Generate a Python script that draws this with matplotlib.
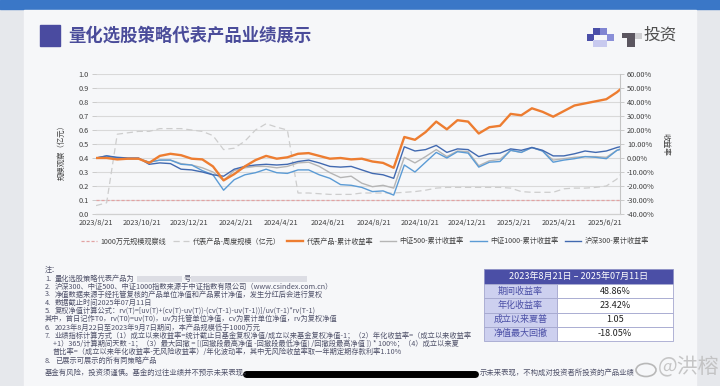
import numpy as np
import pandas as pd
import matplotlib.pyplot as plt
from matplotlib.patches import Rectangle, Ellipse
from matplotlib.lines import Line2D

plt.rcParams['font.family'] = ['Noto Sans CJK SC', 'DejaVu Sans']

# biweekly sample dates, last point is the cut-off day
dates = list(pd.date_range('2023-08-21', periods=50, freq='14D')) + [pd.Timestamp('2025-07-11')]

# cumulative returns (%)
product_ret = [0, 0, -1.0, -0.5, -0.5, -3.5, 1.5, 3.0, 2.0, -0.5,
               -1.0, -6.0, -16.0, -11.5, -6.0, -1.5, 1.5, -0.5, 0.5, 3.0,
               3.5, 1.5, -0.5, 0.0, -1.0, -0.5, -2.5, -3.5, -7.0, 15.0,
               13.0, 18.5, 26.0, 20.5, 27.0, 26.0, 17.5, 22.0, 23.0, 31.5,
               30.5, 35.5, 33.0, 29.5, 33.5, 37.5, 39.0, 40.5, 42.0, 47.0, 48.86]
csi500_ret = [0, 0.5, 0, -0.5, -0.5, -3, -1.5, -1.5, -4, -5,
              -7, -10, -16, -9, -7, -6, -6, -7, -6, -3.5,
              -3, -6, -10.5, -14, -13, -18, -20.5, -19.5, -21.5, 0.5,
              -3.5, 1, 6, 1, 5, 4.5, -5.5, -2, -1, 5.5,
              4, 7.5, 5, -1.5, -0.5, 0.5, 1, 1, 0.5, 5.5, 6.5]
csi1000_ret = [0, 1.5, 0, -0.5, -0.5, -3, -1.5, -1.5, -4.5, -5,
               -9, -12, -23, -15.5, -12, -10.5, -8, -10.5, -11, -8.5,
               -8.5, -12, -14.5, -19, -19.5, -21, -24, -23.5, -26.5, -5,
               -10, -3, 4, 0, 4.5, 3.5, -6.5, -3, -2.5, 5.5,
               4, 7.5, 5, -3, -1.5, -0.5, 1, 0.5, -0.5, 5.5, 6]
hs300_ret = [0, 1.5, 0.5, 0, 0, -4.5, -3.5, -4, -8, -8.5,
             -10, -12, -13, -8, -6, -5, -4.5, -5, -4.5, -2.5,
             -1.5, -3.5, -6, -6.5, -6, -8.5, -11, -12, -14.5, 8,
             5, 6, 9, 4, 6.5, 6, 1, 3, 3.5, 6.5,
             5.5, 7.5, 5.5, 1.5, 1.5, 3, 5, 4, 5, 7.5, 8]
# weekly fund size (亿元)
fund_scale = [0.06, 0.08, 0.57, 0.58, 0.59, 0.59, 0.61, 0.61, 0.61, 0.60,
              0.59, 0.56, 0.46, 0.47, 0.52, 0.60, 0.645, 0.62, 0.60, 0.15,
              0.15, 0.145, 0.14, 0.14, 0.14, 0.15, 0.15, 0.15, 0.15, 0.155,
              0.16, 0.17, 0.185, 0.19, 0.19, 0.19, 0.19, 0.19, 0.19, 0.185,
              0.16, 0.155, 0.155, 0.155, 0.18, 0.185, 0.185, 0.19, 0.20, 0.25, 0.28]
obs_line = 0.1

tick_dates = ['2023-08-21', '2023-10-21', '2023-12-21', '2024-02-21', '2024-04-21', '2024-06-21',
              '2024-08-21', '2024-10-21', '2024-12-21', '2025-02-21', '2025-04-21', '2025-06-21']

legend_names = ['1000万元规模观察线', '代表产品-周度规模（亿元）', '代表产品-累计收益率',
                '中证500-累计收益率', '中证1000-累计收益率', '沪深300-累计收益率']

table_title = '2023年8月21日 – 2025年07月11日'
table_labels = ['期间收益率', '年化收益率', '成立以来夏普', '净值最大回撤']
table_values = ['48.86%', '23.42%', '1.05', '-18.05%']

notes = [
    ('', '注：'),
    ('1.', '量化选股策略代表产品为'),
    ('2.', '沪深300、中证500、中证1000指数来源于中证指数有限公司（www.csindex.com.cn）'),
    ('3.', '净值数据来源于经托管复核的产品单位净值和产品累计净值，发生分红后会进行复权'),
    ('4.', '数据截止时间2025年07月11日'),
    ('5.', '复权净值计算公式：rv(T)=[uv(T)+(cv(T)-uv(T))-(cv(T-1)-uv(T-1))]/uv(T-1)*rv(T-1)'),
    ('', '其中，首日记作T0，rv(T0)=uv(T0)，uv为托管单位净值，cv为累计单位净值，rv为复权净值'),
    ('6.', '2023年8月22日至2023年9月7日期间，本产品规模低于1000万元'),
    ('7.', '业绩指标计算方式（1）成立以来收益率=统计截止日基金复权净值/成立以来基金复权净值-1；（2）年化收益率=（成立以来收益率'),
    ('-', '+1）365/计算期间天数 -1；（3）最大回撤 = [(回撤段最高净值 -回撤段最低净值) /回撤段最高净值 ]) * 100%；（4）成立以来夏'),
    ('-', '普比率=（成立以来年化收益率-无风险收益率）/年化波动率，其中无风险收益率取一年期定期存款利率1.10%'),
    ('8.', '已展示可展示的所有同策略产品'),
]
disclaimer_a = '基金有风险，投资须谨慎。基金的过往业绩并不预示未来表现，'
disclaimer_b = '示未来表现，不构成对投资者所投资的产品业绩'

fig = plt.figure(figsize=(7.2, 3.86), dpi=100)

# page background drawn in pixel coordinates
bg = fig.add_axes([0, 0, 1, 1])
bg.set_xlim(0, 720)
bg.set_ylim(386, 0)
bg.axis('off')
bg.set_zorder(0)
bg.add_patch(Rectangle((0, 0), 720, 386, color='#e6e8ec'))
bg.add_patch(Rectangle((0, 0), 720, 8.5, color='#3a77c7'))
bg.add_patch(Rectangle((24, 10), 672, 376, color='#f6f7f9'))

# title
bg.add_patch(Rectangle((40, 25), 20, 21, color='#4a4ba0'))
bg.text(68, 36, '量化选股策略代表产品业绩展示', fontsize=12.5, fontweight='bold',
        color='#4a4c9a', va='center', ha='left')

# blurred logo
logo = [(593, 28, '#4a4fa8'), (600, 28, '#8085d2'), (587, 34, '#4a4fa8'), (607, 34, '#8a8fd8'),
        (593, 40, '#c8caef'), (600, 40, '#c8caef')]
for lx, ly, lc in logo:
    bg.add_patch(Rectangle((lx, ly), 7, 6.5, color=lc, lw=0))
bg.add_patch(Rectangle((622, 33), 20, 5, color='#5b5660', lw=0))
bg.add_patch(Rectangle((627, 38), 8, 9, color='#5b5660', lw=0))
bg.add_patch(Rectangle((635, 33), 7, 6, color='#cfcfd2', lw=0))
bg.text(643, 35.5, '投资', fontsize=12, color='#505050', va='center', ha='left')

# chart
ax = fig.add_axes([96 / 720, 1 - 214 / 386, 524 / 720, 140 / 386])
ax.set_facecolor('none')
ax.set_zorder(2)
ax2 = ax.twinx()
ax2.set_zorder(3)
ax2.patch.set_visible(False)

c_obs, c_scale = '#e2a3a3', '#cdcdcd'
c_prod, c_500, c_1000, c_300 = '#ed7d31', '#b5b5b5', '#5b9bd5', '#4169b0'

ax.axhline(obs_line, color=c_obs, lw=0.9, ls=(0, (2.5, 1.5)))
ax.plot(dates, fund_scale, color=c_scale, lw=0.9, ls=(0, (5, 3)))
ax2.plot(dates, csi500_ret, color=c_500, lw=1.0)
ax2.plot(dates, csi1000_ret, color=c_1000, lw=1.0)
ax2.plot(dates, hs300_ret, color=c_300, lw=1.0)
ax2.plot(dates, product_ret, color=c_prod, lw=1.7)

ax.set_ylim(0, 1.0)
ax.set_yticks(np.arange(0, 1.01, 0.1))
ax.set_yticklabels([f'{v:.1f}' for v in np.arange(0, 1.01, 0.1)])
ax2.set_ylim(-40, 60)
ax2.set_yticks(np.arange(-40, 61, 10))
ax2.set_yticklabels([f'{v:.2f}%' for v in np.arange(-40, 61, 10)])

ax.set_xlim(pd.Timestamp('2023-08-21'), pd.Timestamp('2025-07-11'))
tds = pd.to_datetime(tick_dates)
ax.set_xticks(tds)
ax.set_xticklabels([f'{d.year}/{d.month}/{d.day}' for d in tds])

ax.grid(axis='y', color='#d9d9d9', lw=0.8)
ax.set_axisbelow(True)
for a in (ax, ax2):
    for s in ('top', 'left'):
        a.spines[s].set_visible(False)
    a.spines['bottom'].set_color('#d0d0d0')
    a.spines['right'].set_color('#c4c4c4')
    a.spines['right'].set_linewidth(0.8)
ax.spines['right'].set_visible(False)
ax.tick_params(axis='x', length=0, pad=3.5, labelsize=5.3, labelcolor='#404040')
ax.tick_params(axis='y', length=3, width=0.6, color='#c4c4c4', pad=2, labelsize=5.3, labelcolor='#404040')
ax2.tick_params(axis='y', length=3, width=0.6, color='#c4c4c4', pad=2, labelsize=5.3, labelcolor='#404040')

ax.set_ylabel('规模观察（亿元）', fontsize=5.3, color='#404040')
ax.yaxis.set_label_coords(-0.058, 0.45)
ax2.set_ylabel('收益率', fontsize=5.5, color='#404040', rotation=-90, va='center')
ax2.yaxis.set_label_coords(1.086, 0.5)

handles = [Line2D([], [], color=c_obs, lw=0.9, ls=(0, (2.5, 1.5))),
           Line2D([], [], color=c_scale, lw=0.9, ls=(0, (5, 3))),
           Line2D([], [], color=c_prod, lw=1.7),
           Line2D([], [], color=c_500, lw=1.0),
           Line2D([], [], color=c_1000, lw=1.0),
           Line2D([], [], color=c_300, lw=1.0)]
fig.legend(handles, legend_names, loc='center', bbox_to_anchor=(365 / 720, 1 - 241.5 / 386),
           ncol=6, frameon=False, fontsize=5.1, handlelength=2.3, handletextpad=0.5,
           columnspacing=0.9, labelcolor='#404040')

# notes
note_color = '#50526a'
ny = [270, 279, 287, 294.5, 303, 311, 319, 328, 336, 344, 352, 361]
for (num, txt), y in zip(notes, ny):
    if num == '-':
        bg.text(53, y, txt, fontsize=5.2, color=note_color, va='center')
    elif num == '':
        bg.text(45, y, txt, fontsize=5.2, color=note_color, va='center')
    else:
        bg.text(45, y, num, fontsize=5.2, color=note_color, va='center')
        bg.text(55, y, txt, fontsize=5.2, color=note_color, va='center')
# blurred product name in note 1
bg.add_patch(Rectangle((137, 276), 45, 6, color='#dcdde4', lw=0))
bg.text(184, 279, '号', fontsize=5.2, color=note_color, va='center')
bg.add_patch(Rectangle((191, 276), 116, 6, color='#dcdde4', lw=0))

bg.text(45, 373, disclaimer_a, fontsize=5.3, color=note_color, va='center')
bg.plot([246, 475], [374, 374], color='black', lw=5, solid_capstyle='round')
bg.text(480, 373, disclaimer_b, fontsize=5.3, color=note_color, va='center')

# summary table
x0, xm, x1 = 484, 557, 673
bg.add_patch(Rectangle((x0, 269), x1 - x0, 15, facecolor='#4b4fa6', edgecolor='#8e91c6', lw=0.6))
bg.text((x0 + x1) / 2, 276.5, table_title, fontsize=6.5, color='white', ha='center', va='center')
rh = 14.25
for i, (lab, val) in enumerate(zip(table_labels, table_values)):
    ry = 284 + i * rh
    bg.add_patch(Rectangle((x0, ry), xm - x0, rh, facecolor='#cdd0ef', edgecolor='#a4a7cf', lw=0.6))
    bg.add_patch(Rectangle((xm, ry), x1 - xm, rh, facecolor='white', edgecolor='#a4a7cf', lw=0.6))
    bg.text((x0 + xm) / 2, ry + rh / 2, lab, fontsize=6.5, color='#4b4fa6', ha='center', va='center')
    bg.text((xm + x1) / 2, ry + rh / 2, val, fontsize=6.5, color='#222222', ha='center', va='center')

# watermark
bg.add_patch(Ellipse((646, 370), 20, 13, facecolor='none', edgecolor='#b8b8b8', lw=1.2))
bg.text(658, 367, '@洪榕', fontsize=15, color='#bdbdbd', alpha=0.85, ha='left', va='center')

fig.savefig('out.png', dpi=100)
